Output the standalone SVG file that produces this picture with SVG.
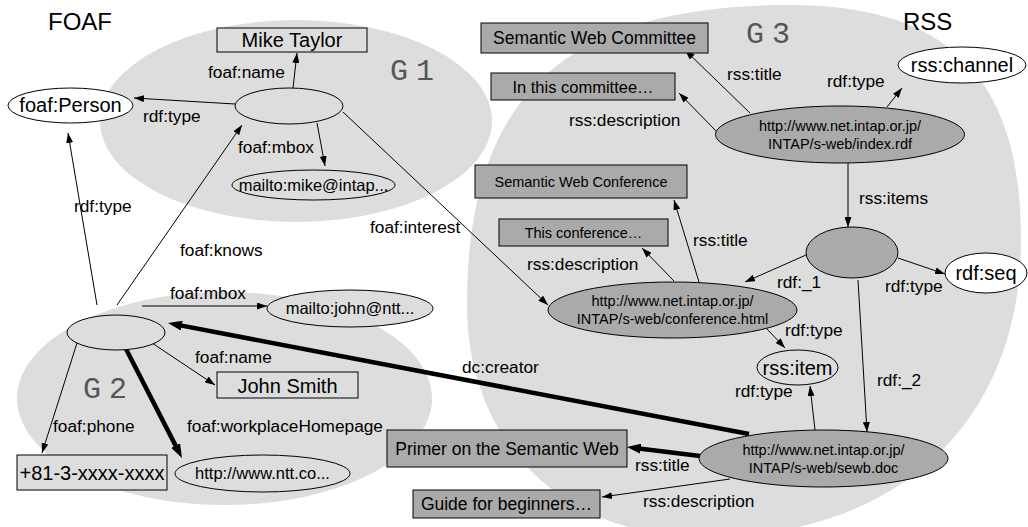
<svg xmlns="http://www.w3.org/2000/svg" width="1028" height="527" viewBox="0 0 1028 527">
<style>
.bg{fill:#dddddd;stroke:none}
.lt{fill:#dddddd;stroke:#000;stroke-width:1}
.dk{fill:#aaaaaa;stroke:#000;stroke-width:1}
.wh{fill:#ffffff;stroke:#000;stroke-width:1}
.e{stroke:#000;stroke-width:1;fill:none;marker-end:url(#a)}
.t{stroke:#000;stroke-width:4.5;fill:none;marker-end:url(#A)}
text{font-family:"Liberation Sans",Arial,Helvetica,sans-serif;fill:#000}
.lb{font-size:17.3px}
.ttl{font-size:24px}
.g{font-family:"Liberation Mono","Courier New",monospace;font-size:30px;letter-spacing:8px;fill:#555}
.c20{font-size:20px;text-anchor:middle}
.c16{font-size:16.5px;text-anchor:middle}
.c17{font-size:17.5px;text-anchor:middle}
.c14{font-size:14.5px;text-anchor:middle}
</style>
<defs>
<marker id="a" markerUnits="userSpaceOnUse" markerWidth="10" markerHeight="7" refX="10" refY="3.5" orient="auto"><path d="M0,0 L10,3.5 L0,7 z" fill="#000"/></marker>
<marker id="A" markerUnits="userSpaceOnUse" markerWidth="14" markerHeight="10" refX="4" refY="5" orient="auto"><path d="M0,0 L14,5 L0,10 z" fill="#000"/></marker>
</defs>
<rect width="1028" height="527" fill="#ffffff"/>
<g id="graphs">
<ellipse id="G1-area" class="bg" cx="296" cy="121" rx="196" ry="101"/>
<ellipse id="G2-area" class="bg" cx="224.5" cy="398.5" rx="207.5" ry="106.5"/>
<path id="G3-area" class="bg" d="M790,5 C960,5 1021,90 1021,240 C1021,420 900,537 705,537 C560,537 467,440 467,305 C467,100 560,5 790,5 Z"/>
<text class="g" x="390" y="80">G1</text>
<text class="g" x="83" y="398">G2</text>
<text class="g" x="746" y="43">G3</text>
<text class="ttl" x="48" y="30">FOAF</text>
<text class="ttl" x="903" y="30">RSS</text>
</g>
<g id="connectors">
<line class="e" x1="293" y1="88" x2="297" y2="53"/>
<line class="e" x1="235" y1="104" x2="134" y2="98"/>
<line class="e" x1="317" y1="123" x2="325" y2="166"/>
<line class="e" x1="343" y1="112" x2="548" y2="305"/>
<line class="e" x1="97" y1="305" x2="68" y2="133"/>
<line class="e" x1="117" y1="305" x2="242" y2="125"/>
<line class="e" x1="142" y1="306" x2="267" y2="306"/>
<line class="e" x1="152" y1="343" x2="215" y2="385"/>
<line class="e" x1="77" y1="343" x2="42" y2="453"/>
<line class="t" x1="125" y1="347" x2="177.4" y2="449.1"/>
<line class="t" x1="749" y1="434" x2="177.8" y2="324.9"/>
<line class="t" x1="700" y1="456" x2="636.9" y2="448.2"/>
<line class="e" x1="730" y1="479" x2="602" y2="497"/>
<line class="e" x1="750" y1="113" x2="685" y2="50"/>
<line class="e" x1="717" y1="132" x2="679" y2="93"/>
<line class="e" x1="887" y1="107" x2="902" y2="88"/>
<line class="e" x1="848" y1="163" x2="848" y2="227"/>
<line class="e" x1="898" y1="258" x2="945" y2="274"/>
<line class="e" x1="806" y1="255" x2="745" y2="282"/>
<line class="e" x1="858" y1="280" x2="867" y2="432"/>
<line class="e" x1="699" y1="282" x2="674" y2="200"/>
<line class="e" x1="674" y1="281" x2="642" y2="248"/>
<line class="e" x1="767" y1="329" x2="785" y2="348"/>
<line class="e" x1="815" y1="430" x2="810" y2="386"/>
<text class="lb" x="208" y="78">foaf:name</text>
<text class="lb" x="143" y="122">rdf:type</text>
<text class="lb" x="238" y="153">foaf:mbox</text>
<text class="lb" x="74" y="212">rdf:type</text>
<text class="lb" x="180" y="256">foaf:knows</text>
<text class="lb" x="370" y="233">foaf:interest</text>
<text class="lb" x="170" y="299">foaf:mbox</text>
<text class="lb" x="195" y="363">foaf:name</text>
<text class="lb" x="187" y="432">foaf:workplaceHomepage</text>
<text class="lb" x="53" y="432">foaf:phone</text>
<text class="lb" x="462" y="373">dc:creator</text>
<text class="lb" x="727" y="80">rss:title</text>
<text class="lb" x="827" y="87">rdf:type</text>
<text class="lb" x="569" y="126">rss:description</text>
<text class="lb" x="859" y="204">rss:items</text>
<text class="lb" x="693" y="246">rss:title</text>
<text class="lb" x="527" y="270">rss:description</text>
<text class="lb" x="777" y="288">rdf:_1</text>
<text class="lb" x="885" y="292">rdf:type</text>
<text class="lb" x="785" y="336">rdf:type</text>
<text class="lb" x="877" y="386">rdf:_2</text>
<text class="lb" x="735" y="397">rdf:type</text>
<text class="lb" x="635" y="471">rss:title</text>
<text class="lb" x="643" y="507">rss:description</text>
</g>
<g id="foaf-person"><ellipse class="wh" cx="70.5" cy="105.5" rx="62.5" ry="17.5"/><text class="c20" x="70.5" y="112">foaf:Person</text></g>
<g id="mike-taylor"><rect class="lt" x="217" y="28" width="150" height="24"/><text class="c20" x="292" y="47">Mike Taylor</text></g>
<g id="mike"><ellipse class="lt" cx="289" cy="106" rx="54" ry="18"/></g>
<g id="mike-mbox"><ellipse class="lt" cx="313.5" cy="185" rx="81.5" ry="15"/><text class="c16" x="313.5" y="191">mailto:mike@intap...</text></g>
<g id="john"><ellipse class="lt" cx="116" cy="332.5" rx="49" ry="17.5"/></g>
<g id="john-mbox"><ellipse class="lt" cx="350" cy="308.5" rx="83" ry="18.5"/><text class="c16" x="350" y="314">mailto:john@ntt...</text></g>
<g id="john-smith"><rect class="lt" x="217" y="372" width="141" height="26"/><text class="c20" x="287.5" y="393">John Smith</text></g>
<g id="john-homepage"><ellipse class="lt" cx="262.5" cy="473.5" rx="87.5" ry="18.5"/><text class="c16" x="262.5" y="479">http://www.ntt.co...</text></g>
<g id="john-phone"><rect class="lt" x="17" y="455" width="150" height="35"/><text class="c20" x="92" y="480">+81-3-xxxx-xxxx</text></g>
<g id="sw-committee"><rect class="dk" x="481" y="23" width="227" height="30"/><text class="c17" x="594.5" y="44">Semantic Web Committee</text></g>
<g id="in-committee"><rect class="dk" x="491" y="73" width="184" height="27"/><text class="c16" x="583" y="93">In this committee…</text></g>
<g id="rss-channel"><ellipse class="wh" cx="962" cy="65" rx="64" ry="18"/><text class="c20" x="962" y="72">rss:channel</text></g>
<g id="index-rdf"><ellipse class="dk" cx="840" cy="134.5" rx="124.5" ry="28.5"/><text class="c14" x="840" y="131">http://www.net.intap.or.jp/</text><text class="c14" x="840" y="149">INTAP/s-web/index.rdf</text></g>
<g id="sw-conference"><rect class="dk" x="475" y="165" width="212" height="33"/><text class="c14" x="581" y="187">Semantic Web Conference</text></g>
<g id="this-conference"><rect class="dk" x="499" y="219" width="169" height="27"/><text class="c14" x="583.5" y="238">This conference…</text></g>
<g id="seq"><ellipse class="dk" cx="852" cy="252.5" rx="46" ry="25.5"/></g>
<g id="rdf-seq"><ellipse class="wh" cx="986" cy="273" rx="41" ry="20"/><text class="c20" x="986" y="280">rdf:seq</text></g>
<g id="conference-html"><ellipse class="dk" cx="672.5" cy="310" rx="124.5" ry="28"/><text class="c14" x="672.5" y="306">http://www.net.intap.or.jp/</text><text class="c14" x="672.5" y="324">INTAP/s-web/conference.html</text></g>
<g id="rss-item"><ellipse class="lt" cx="797.5" cy="367.5" rx="40.5" ry="17.5"/><text class="c20" x="797.5" y="374.5">rss:item</text></g>
<g id="sewb-doc"><ellipse class="dk" cx="823.5" cy="458.5" rx="124.5" ry="28.5"/><text class="c14" x="823.5" y="455">http://www.net.intap.or.jp/</text><text class="c14" x="823.5" y="473">INTAP/s-web/sewb.doc</text></g>
<g id="primer"><rect class="dk" x="387" y="430" width="240" height="37"/><text class="c17" x="507" y="455">Primer on the Semantic Web</text></g>
<g id="guide"><rect class="dk" x="413" y="490" width="187" height="28"/><text class="c17" x="506.5" y="510">Guide for beginners…</text></g>
</svg>
